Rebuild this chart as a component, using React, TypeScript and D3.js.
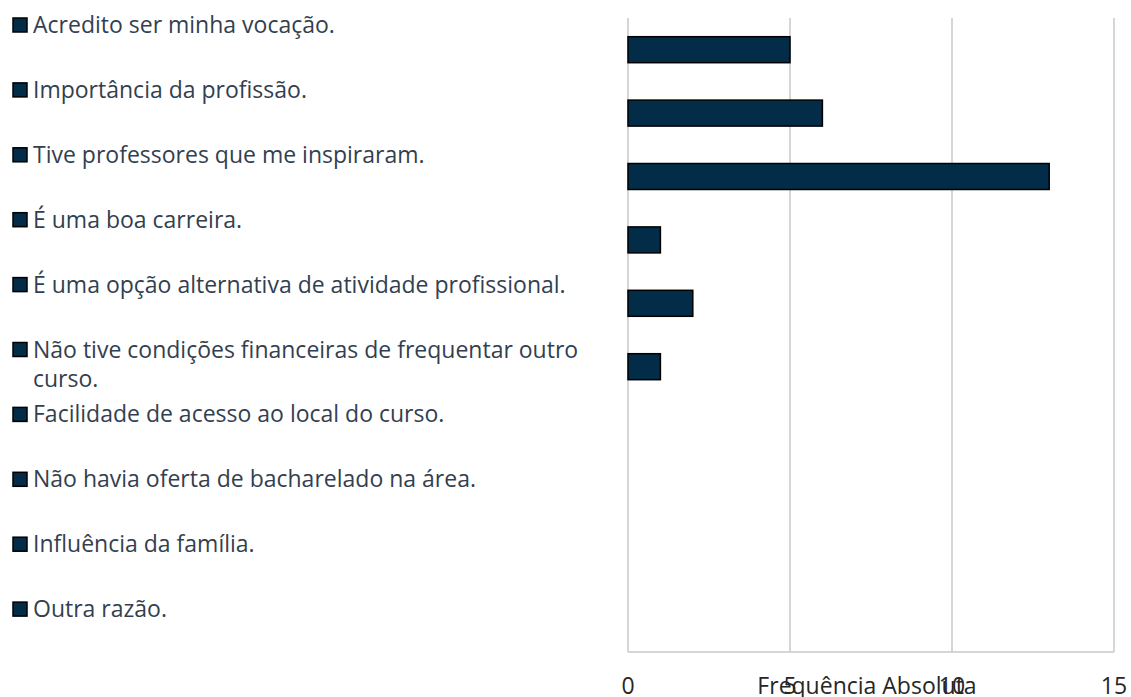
import React, { useEffect, useRef } from "react";
import * as d3 from "d3";

// reasons (legend order, top to bottom)
const categories = [
  "Acredito ser minha vocação.",
  "Importância da profissão.",
  "Tive professores que me inspiraram.",
  "É uma boa carreira.",
  "É uma opção alternativa de atividade profissional.",
  "Não tive condições financeiras de frequentar outro curso.",
  "Facilidade de acesso ao local do curso.",
  "Não havia oferta de bacharelado na área.",
  "Influência da família.",
  "Outra razão.",
];

const values = [5, 6, 13, 1, 2, 1, 0, 0, 0, 0];

const xTicks = [0, 5, 10, 15];
const axisTitle = "Frequência Absoluta";

const W = 1131;
const H = 697;
const FONT = "'Open Sans', sans-serif";
const BAR_COLOR = "#022c47";
const TEXT_COLOR = "#333f50";

const App = () => {
  const ref = useRef<SVGSVGElement>(null);

  useEffect(() => {
    const svg = d3.select(ref.current);
    svg.selectAll("*").remove();

    const x = d3.scaleLinear().domain([0, 15]).range([628, 1114]);
    const y = d3
      .scaleBand()
      .domain(categories)
      .range([18, 652])
      .paddingInner(0.59)
      .paddingOuter(0.295);

    // gridlines
    svg
      .append("g")
      .selectAll("line")
      .data(xTicks)
      .enter()
      .append("line")
      .attr("x1", (d) => x(d))
      .attr("x2", (d) => x(d))
      .attr("y1", 18)
      .attr("y2", 652)
      .attr("stroke", "#c8c8c8")
      .attr("stroke-width", 1.5);

    // bottom axis line
    svg
      .append("line")
      .attr("x1", x(0))
      .attr("x2", x(15))
      .attr("y1", 652)
      .attr("y2", 652)
      .attr("stroke", "#c8c8c8")
      .attr("stroke-width", 1.5);

    // bars (zero values draw nothing)
    const rows = categories.map((c, i) => ({ c, v: values[i] })).filter((d) => d.v > 0);
    svg
      .append("g")
      .selectAll("rect")
      .data(rows)
      .enter()
      .append("rect")
      .attr("x", x(0))
      .attr("y", (d) => y(d.c)!)
      .attr("width", (d) => x(d.v) - x(0))
      .attr("height", y.bandwidth())
      .attr("fill", BAR_COLOR)
      .attr("stroke", "#000")
      .attr("stroke-width", 1.5);

    // tick labels
    svg
      .append("g")
      .selectAll("text")
      .data(xTicks)
      .enter()
      .append("text")
      .attr("x", (d) => x(d))
      .attr("y", 694)
      .attr("text-anchor", "middle")
      .attr("font-family", FONT)
      .attr("font-size", 23)
      .attr("fill", "#262626")
      .text((d) => d);

    // axis title (overlaps the ticks, as in the original)
    svg
      .append("text")
      .attr("x", 867)
      .attr("y", 694)
      .attr("text-anchor", "middle")
      .attr("font-family", FONT)
      .attr("font-size", 23)
      .attr("fill", "#262626")
      .text(axisTitle);

    // legend
    const step = 64.9;
    const maxWidth = 550;
    const legend = svg.append("g");
    categories.forEach((label, i) => {
      const base = 33 + i * step;
      legend
        .append("rect")
        .attr("x", 13)
        .attr("y", base - 15)
        .attr("width", 14)
        .attr("height", 14)
        .attr("fill", BAR_COLOR)
        .attr("stroke", "#000")
        .attr("stroke-width", 1.5);

      const text = legend
        .append("text")
        .attr("x", 33)
        .attr("y", base)
        .attr("font-family", FONT)
        .attr("font-size", 23)
        .attr("fill", TEXT_COLOR);

      // simple word wrap
      const words = label.split(" ");
      let line: string[] = [];
      let lineNo = 0;
      let tspan = text.append("tspan").attr("x", 33).attr("y", base);
      words.forEach((w) => {
        line.push(w);
        tspan.text(line.join(" "));
        const node = tspan.node() as SVGTSpanElement;
        if (node.getComputedTextLength() > maxWidth && line.length > 1) {
          line.pop();
          tspan.text(line.join(" "));
          line = [w];
          lineNo += 1;
          tspan = text
            .append("tspan")
            .attr("x", 33)
            .attr("y", base + lineNo * 29.5)
            .text(w);
        }
      });
    });
  }, []);

  return <svg ref={ref} width={W} height={H} style={{ display: "block", position: "absolute", left: 0, top: 0 }} />;
};

export default App;
